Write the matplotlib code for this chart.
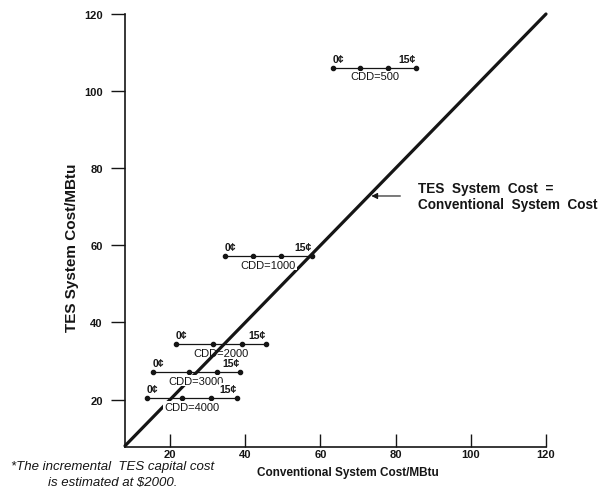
import matplotlib
matplotlib.use("Agg")
import matplotlib.pyplot as plt

plt.rcParams['font.family'] = ['Liberation Sans', 'DejaVu Sans']

# Data
series_names = ["CDD=500", "CDD=1000", "CDD=2000", "CDD=3000", "CDD=4000"]
series_x = [
    [63.3, 70.5, 77.9, 85.4],
    [34.6, 42.1, 49.4, 57.7],
    [21.6, 31.4, 39.1, 45.5],
    [15.4, 25.1, 32.6, 38.6],
    [13.8, 23.1, 30.9, 37.7],
]
series_y = [106.0, 57.2, 34.4, 27.1, 20.4]
start_label = "0¢"
end_label = "15¢"
parity_x = [8, 120]
parity_y = [8, 120]
xticks = [20, 40, 60, 80, 100, 120]
yticks = [20, 40, 60, 80, 100, 120]

fig = plt.figure(figsize=(6.1, 5.02), dpi=100)
ax = fig.add_axes([125/610, 1-448/502, (546-125)/610, (448-15)/502])
ax.set_xlim(8, 120)
ax.set_ylim(7.7, 120)

ink = "#151515"

# parity line
ax.plot(parity_x, parity_y, color=ink, lw=2.3, solid_capstyle='round', zorder=2, clip_on=False)

for name, xs, y in zip(series_names, series_x, series_y):
    ax.plot(xs, [y]*len(xs), color=ink, lw=0.9, marker='o', markersize=3, zorder=3, clip_on=False)
    use_box = name != "CDD=2000"
    bb = dict(facecolor='white', edgecolor='none', pad=0.6) if use_box else None
    ax.annotate(start_label, (xs[0], y), xytext=(0, 3), textcoords='offset points',
                ha='left', va='bottom', fontsize=7.5, fontweight='bold', color=ink, zorder=4)
    ax.annotate(end_label, (xs[-1], y), xytext=(0, 3), textcoords='offset points',
                ha='right', va='bottom', fontsize=7.5, fontweight='bold', color=ink, zorder=4,
                bbox=dict(facecolor='white', edgecolor='none', pad=0.4))
    mid = (xs[0] + xs[-1]) / 2
    ax.annotate(name, (mid, y), xytext=(0, -2.5), textcoords='offset points',
                ha='center', va='top', fontsize=8, color=ink, zorder=4, bbox=bb)

# annotation with arrow
ax.annotate("", xy=(72.8, 72.8), xytext=(82.0, 72.8),
            arrowprops=dict(arrowstyle='-|>', color=ink, lw=0.8, mutation_scale=9), zorder=4)
ax.text(86.0, 72.8, "TES  System  Cost  =\nConventional  System  Cost", ha='left', va='center',
        fontsize=9.8, fontweight='bold', color=ink, linespacing=1.2, zorder=4)

# spines & ticks
for s in ['top', 'right']:
    ax.spines[s].set_visible(False)
for s in ['left', 'bottom']:
    ax.spines[s].set_color(ink)
    ax.spines[s].set_linewidth(1.2)
ax.set_xticks(xticks)
ax.set_yticks(yticks)
ax.tick_params(axis='x', direction='in', length=9.5, width=1.0, colors=ink, pad=1.5, labelsize=8)
ax.tick_params(axis='y', direction='out', length=10, width=1.0, colors=ink, pad=6, labelsize=8)
for lab in ax.get_xticklabels() + ax.get_yticklabels():
    lab.set_fontweight('bold')

fig.text(348/610, 1-473/502, "Conventional System Cost/MBtu", ha='center', va='center',
         fontsize=8.5, fontweight='bold', color=ink)
fig.text(72/610, 1-248/502, "TES System Cost/MBtu", ha='center', va='center', rotation=90,
         fontsize=11, fontweight='bold', color=ink)
fig.text(113/610, 1-467/502, "*The incremental  TES capital cost", ha='center',
         va='center', fontsize=9.5, fontstyle='italic', color=ink,
         family=['Liberation Sans Narrow', 'Liberation Sans', 'DejaVu Sans'])
fig.text(113/610, 1-483/502, "is estimated at $2000.", ha='center',
         va='center', fontsize=9.5, fontstyle='italic', color=ink,
         family=['Liberation Sans Narrow', 'Liberation Sans', 'DejaVu Sans'])

fig.savefig("out.png", dpi=100)
